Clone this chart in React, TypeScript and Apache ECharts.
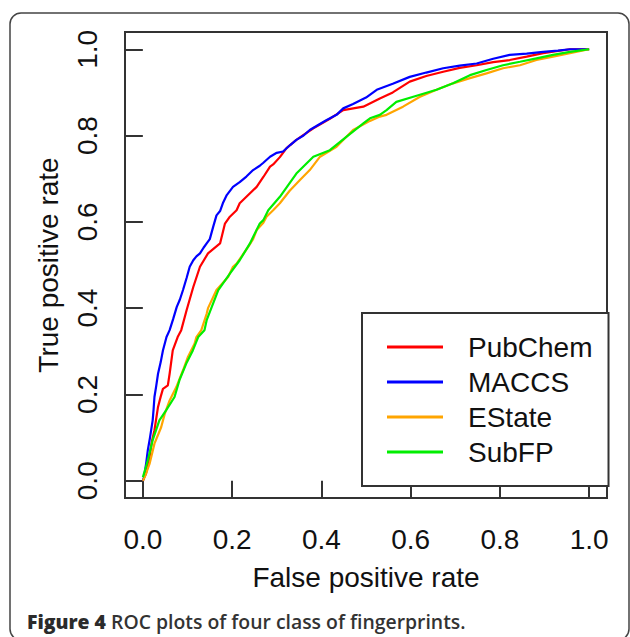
import React, { useEffect, useRef } from "react";
import * as echarts from "echarts";

const seriesNames = ["PubChem", "MACCS", "EState", "SubFP"];
const seriesColors = ["#ff0000", "#0000ff", "#ffa500", "#00ee00"];
const tickValues = [0, 0.2, 0.4, 0.6, 0.8, 1.0];

const pubchem: number[][] = [
  [0, 0], [0.004, 0.01], [0.007, 0.016], [0.015, 0.055], [0.02, 0.09], [0.026, 0.117],
  [0.034, 0.171], [0.04, 0.195], [0.045, 0.213], [0.056, 0.221], [0.06, 0.248],
  [0.067, 0.302], [0.078, 0.333], [0.086, 0.349], [0.098, 0.395], [0.113, 0.449],
  [0.128, 0.496], [0.146, 0.527], [0.173, 0.55], [0.184, 0.596], [0.195, 0.612],
  [0.21, 0.627], [0.217, 0.643], [0.232, 0.658], [0.255, 0.681], [0.27, 0.704],
  [0.285, 0.728], [0.292, 0.733], [0.307, 0.75], [0.322, 0.771], [0.344, 0.79],
  [0.382, 0.817], [0.419, 0.839], [0.449, 0.859], [0.494, 0.867], [0.531, 0.886],
  [0.56, 0.9], [0.598, 0.925], [0.635, 0.938], [0.673, 0.948], [0.71, 0.957],
  [0.748, 0.963], [0.785, 0.97], [0.822, 0.975], [0.86, 0.983], [0.897, 0.991],
  [0.957, 1.0], [1, 1],
];

const maccs: number[][] = [
  [0, 0], [0.002, 0.005], [0.004, 0.016], [0.008, 0.045], [0.011, 0.07], [0.016, 0.1],
  [0.022, 0.14], [0.024, 0.165], [0.026, 0.194], [0.03, 0.22], [0.034, 0.248],
  [0.04, 0.275], [0.045, 0.302], [0.053, 0.333], [0.06, 0.349], [0.068, 0.375],
  [0.076, 0.403], [0.083, 0.42], [0.09, 0.442], [0.098, 0.47], [0.105, 0.496],
  [0.113, 0.511], [0.12, 0.52], [0.128, 0.527], [0.136, 0.54], [0.143, 0.55],
  [0.15, 0.56], [0.158, 0.59], [0.165, 0.615], [0.173, 0.625], [0.18, 0.645],
  [0.188, 0.662], [0.202, 0.681], [0.217, 0.692], [0.232, 0.705], [0.247, 0.72],
  [0.262, 0.73], [0.27, 0.737], [0.285, 0.751], [0.3, 0.76], [0.314, 0.763],
  [0.33, 0.778], [0.344, 0.79], [0.36, 0.8], [0.374, 0.813], [0.389, 0.822],
  [0.41, 0.835], [0.434, 0.848], [0.449, 0.863], [0.471, 0.873], [0.5, 0.888],
  [0.524, 0.906], [0.56, 0.92], [0.598, 0.936], [0.635, 0.946], [0.673, 0.956],
  [0.71, 0.962], [0.748, 0.967], [0.785, 0.978], [0.822, 0.987], [0.86, 0.99],
  [0.897, 0.994], [0.93, 0.997], [0.957, 1.0], [1, 1],
];

const estate: number[][] = [
  [0, 0], [0.004, 0.008], [0.015, 0.039], [0.026, 0.086], [0.041, 0.124], [0.049, 0.155],
  [0.06, 0.186], [0.075, 0.217], [0.09, 0.256], [0.101, 0.287], [0.116, 0.318],
  [0.12, 0.333], [0.131, 0.349], [0.143, 0.387], [0.146, 0.4], [0.165, 0.442],
  [0.191, 0.472], [0.202, 0.496], [0.21, 0.503], [0.236, 0.542], [0.247, 0.56],
  [0.255, 0.581], [0.27, 0.598], [0.277, 0.612], [0.292, 0.627], [0.307, 0.643],
  [0.329, 0.672], [0.352, 0.697], [0.374, 0.72], [0.397, 0.751], [0.434, 0.774],
  [0.471, 0.813], [0.509, 0.834], [0.531, 0.844], [0.546, 0.848], [0.583, 0.867],
  [0.621, 0.89], [0.658, 0.906], [0.695, 0.921], [0.733, 0.933], [0.77, 0.944],
  [0.807, 0.956], [0.845, 0.963], [0.882, 0.975], [0.919, 0.983], [0.957, 0.991],
  [1, 1],
];

const subfp: number[][] = [
  [0, 0.008], [0.011, 0.047], [0.022, 0.094], [0.037, 0.14], [0.052, 0.163],
  [0.071, 0.194], [0.082, 0.233], [0.097, 0.271], [0.112, 0.302], [0.124, 0.333],
  [0.138, 0.349], [0.143, 0.372], [0.169, 0.442], [0.195, 0.48], [0.217, 0.511],
  [0.24, 0.55], [0.247, 0.565], [0.262, 0.596], [0.27, 0.604], [0.281, 0.627],
  [0.307, 0.658], [0.344, 0.712], [0.382, 0.751], [0.419, 0.766], [0.456, 0.797],
  [0.494, 0.828], [0.509, 0.84], [0.531, 0.848], [0.546, 0.859], [0.568, 0.878],
  [0.606, 0.89], [0.658, 0.906], [0.695, 0.921], [0.733, 0.94], [0.77, 0.952],
  [0.807, 0.963], [0.845, 0.971], [0.882, 0.979], [0.919, 0.987], [0.957, 0.994],
  [1, 1],
];

const seriesData = [pubchem, maccs, estate, subfp];

const FONT = "'Liberation Sans', Arial, Helvetica, sans-serif";
const CAPTION_FONT = "'Open Sans', 'Noto Sans', sans-serif";
const AXIS_COLOR = "#333";

export default function App() {
  const ref = useRef<HTMLDivElement>(null);
  useEffect(() => {
    if (!ref.current) return;
    const chart = echarts.init(ref.current, undefined, { renderer: "svg" });
    const axisCommon = {
      type: "value" as const,
      min: -0.04,
      max: 1.04,
      splitLine: { show: false },
      axisLine: { show: false },
      axisTick: {
        show: true,
        inside: false,
        length: 17,
        customValues: tickValues,
        lineStyle: { color: AXIS_COLOR, width: 2 },
      },
    };
    chart.setOption({
      animation: false,
      backgroundColor: "#fff",
      grid: {
        left: 125,
        top: 32,
        width: 482,
        height: 466,
        show: true,
        borderColor: AXIS_COLOR,
        borderWidth: 2,
        backgroundColor: "transparent",
        containLabel: false,
        outerBoundsMode: "none",
      },
      xAxis: {
        ...axisCommon,
        axisLabel: {
          customValues: tickValues,
          fontSize: 28,
          fontFamily: FONT,
          color: "#111",
          margin: 27,
          formatter: (v: number) => v.toFixed(1),
        },
      },
      yAxis: {
        ...axisCommon,
        axisLabel: {
          customValues: tickValues,
          fontSize: 28,
          fontFamily: FONT,
          color: "#111",
          margin: 24,
          rotate: 90,
          formatter: (v: number) => v.toFixed(1),
        },
      },
      legend: {
        show: true,
        orient: "vertical",
        left: 362,
        top: 313,
        padding: [20, 16, 20, 25],
        itemWidth: 56,
        itemHeight: 3,
        itemGap: 7,
        icon: "rect",
        borderColor: AXIS_COLOR,
        borderWidth: 2,
        backgroundColor: "#fff",
        selectedMode: false,
        textStyle: {
          fontSize: 28,
          fontFamily: FONT,
          color: "#111",
          lineHeight: 28,
          padding: [0, 0, 0, 20],
        },
        data: seriesNames,
      },
      graphic: [
        {
          type: "rect",
          shape: { x: 10, y: 13, width: 619, height: 627, r: 11 },
          style: { fill: "none", stroke: "#444", lineWidth: 1.5 },
          silent: true,
          z: -1,
        },
        {
          type: "text",
          x: 366,
          y: 577,
          style: {
            text: "False positive rate",
            font: `28px ${FONT}`,
            fill: "#111",
            align: "center",
            verticalAlign: "middle",
          },
        },
        {
          type: "text",
          x: 48,
          y: 265,
          rotation: Math.PI / 2,
          style: {
            text: "True positive rate",
            font: `28px ${FONT}`,
            fill: "#111",
            align: "center",
            verticalAlign: "middle",
          },
        },
        {
          type: "text",
          x: 27,
          y: 621,
          style: {
            text: "{a|Figure 4}{b| ROC plots of four class of fingerprints.}",
            verticalAlign: "middle",
            rich: {
              a: {
                fontFamily: CAPTION_FONT,
                fontWeight: 800,
                fontSize: 19.4,
                fill: "#2b2b2b",
              },
              b: {
                fontFamily: CAPTION_FONT,
                fontWeight: 600,
                fontSize: 19.4,
                fill: "#333",
              },
            },
          },
        },
      ],
      series: seriesNames.map((name, i) => ({
        name,
        type: "line",
        data: seriesData[i],
        showSymbol: false,
        symbol: "none",
        color: seriesColors[i],
        lineStyle: { color: seriesColors[i], width: 2.2 },
        itemStyle: { color: seriesColors[i] },
        smooth: false,
      })),
    });
    return () => chart.dispose();
  }, []);
  return <div ref={ref} style={{ width: 630, height: 637, position: "absolute", left: 0, top: 0 }} />;
}
